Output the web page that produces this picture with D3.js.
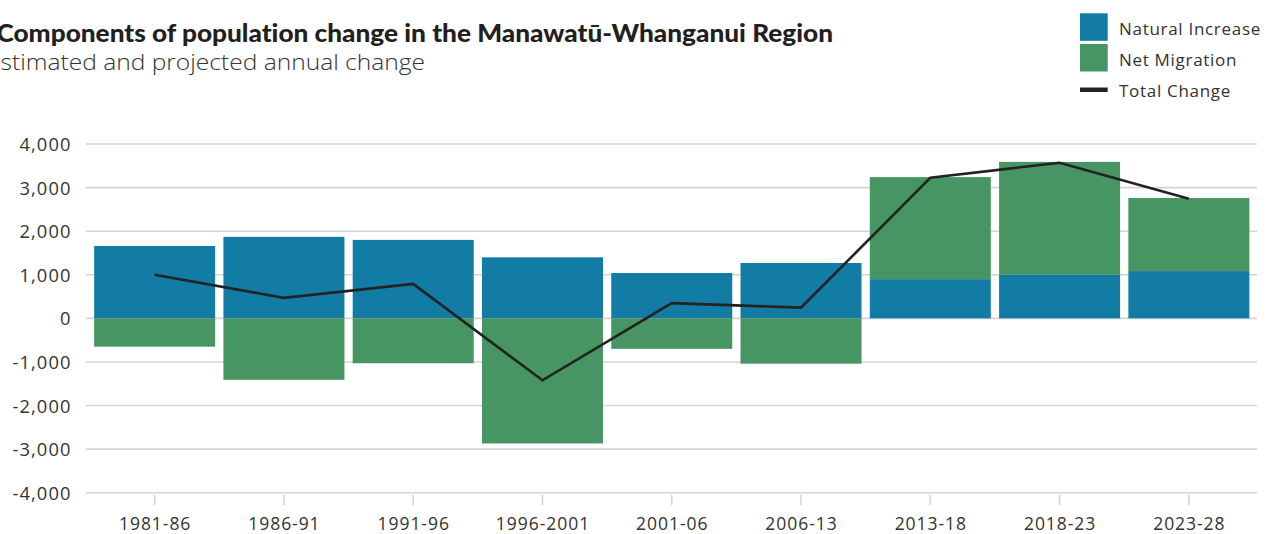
<!DOCTYPE html>
<html><head><meta charset="utf-8">
<script src="https://cdn.jsdelivr.net/npm/d3@7"></script>
<style>
body{margin:0;background:#fff;}
svg{display:block;}
text{font-family:"Open Sans","Noto Sans",sans-serif;font-variant-ligatures:none;}
</style></head>
<body>
<svg id="chart" width="1274" height="534"></svg>
<script>
const categories = ["1981-86","1986-91","1991-96","1996-2001","2001-06","2006-13","2013-18","2018-23","2023-28"];
const naturalIncrease = [1660,1870,1800,1400,1040,1270,900,1000,1085];
const netMigration = [-650,-1410,-1030,-2870,-700,-1040,2340,2590,1675];
const totalChange = [1000,470,790,-1420,350,245,3225,3570,2745];
const yTicks = [4000,3000,2000,1000,0,-1000,-2000,-3000,-4000];

const svg = d3.select("#chart");
const blue = "#127ca5", green = "#479562";
const labelFont = "'Open Sans','Noto Sans',sans-serif";

const x = d3.scaleBand().domain(categories).range([90,1253.5]).paddingInner(0.064).paddingOuter(0.032);
const y = d3.scaleLinear().domain([-4000,4000]).range([492.7,144]);

// gridlines
svg.append("g").selectAll("line").data(yTicks).join("line")
  .attr("x1",86).attr("x2",1257)
  .attr("y1",d=>y(d)).attr("y2",d=>y(d))
  .attr("stroke","#d4d4d4").attr("stroke-width",1.6);

// y axis labels
const yAxis = d3.axisLeft(y).tickValues(yTicks).tickSize(0).tickPadding(0)
  .tickFormat(d=>d3.format(",")(d).replace("−","-"));
const ga = svg.append("g").attr("transform","translate(71.5,0)").call(yAxis);
ga.select(".domain").remove();
ga.selectAll("text").attr("font-size",18.3).attr("fill","#333").attr("dy","0.36em")
  .attr("letter-spacing",1.1).style("font-family",labelFont);

// x axis
const xAxis = d3.axisBottom(x).tickSize(10).tickPadding(0);
const gx = svg.append("g").attr("transform","translate(0,495)").call(xAxis);
gx.select(".domain").remove();
gx.selectAll("line").attr("stroke","#d4d4d4").attr("stroke-width",1.6);
gx.selectAll("text").attr("font-size",17.5).attr("fill","#333").attr("y",34.5).attr("dy",0)
  .attr("letter-spacing",0.95).attr("dx",0.5).style("font-family",labelFont);

// bars
const rows = categories.map((c,i)=>({c, ni:naturalIncrease[i], nm:netMigration[i]}));
function segs(r){
  const out=[]; let pos=0, neg=0;
  [["ni",r.ni,blue],["nm",r.nm,green]].forEach(([k,v,col])=>{
    if(v>=0){out.push({c:r.c,y0:pos,y1:pos+v,col}); pos+=v;}
    else {out.push({c:r.c,y0:neg,y1:neg+v,col}); neg+=v;}
  });
  return out;
}
svg.append("g").selectAll("rect").data(rows.flatMap(segs)).join("rect")
  .attr("x",d=>x(d.c)).attr("width",x.bandwidth())
  .attr("y",d=>y(Math.max(d.y0,d.y1)))
  .attr("height",d=>Math.abs(y(d.y0)-y(d.y1)))
  .attr("fill",d=>d.col);

// total line
const line = d3.line().x((d,i)=>x(categories[i])+x.bandwidth()/2).y(d=>y(d));
svg.append("path").datum(totalChange).attr("d",line)
  .attr("fill","none").attr("stroke","#222").attr("stroke-width",2.6);

// title
svg.append("text").attr("x",-3.5).attr("y",41.7).attr("font-size",24.5).attr("font-weight",900)
  .style("font-family","Lato,'Noto Sans',sans-serif")
  .attr("textLength",836.5).attr("lengthAdjust","spacingAndGlyphs")
  .attr("fill","#231f20").text("Components of population change in the Manawatū-Whanganui Region");
svg.append("text").attr("x",-13).attr("y",70).attr("font-size",22.5).attr("font-weight",300)
  .attr("textLength",438).attr("lengthAdjust","spacingAndGlyphs")
  .attr("fill","#333").text("Estimated and projected annual change");

// legend
const leg = [{t:"Natural Increase",c:blue,type:"rect"},{t:"Net Migration",c:green,type:"rect"},{t:"Total Change",c:"#222",type:"line"}];
const lg = svg.append("g");
const legY = [34.5,65.5,96.8];
leg.forEach((d,i)=>{
  if(d.type==="rect") lg.append("rect").attr("x",1080).attr("y",13.3+i*30.7).attr("width",27.7).attr("height",27.5).attr("fill",d.c);
  else lg.append("rect").attr("x",1080).attr("y",87.5).attr("width",27.7).attr("height",4.5).attr("fill",d.c);
  lg.append("text").attr("x",1119).attr("y",legY[i]).attr("font-size",17).attr("letter-spacing",0.7)
    .attr("fill","#333").text(d.t);
});
</script>
</body></html>
